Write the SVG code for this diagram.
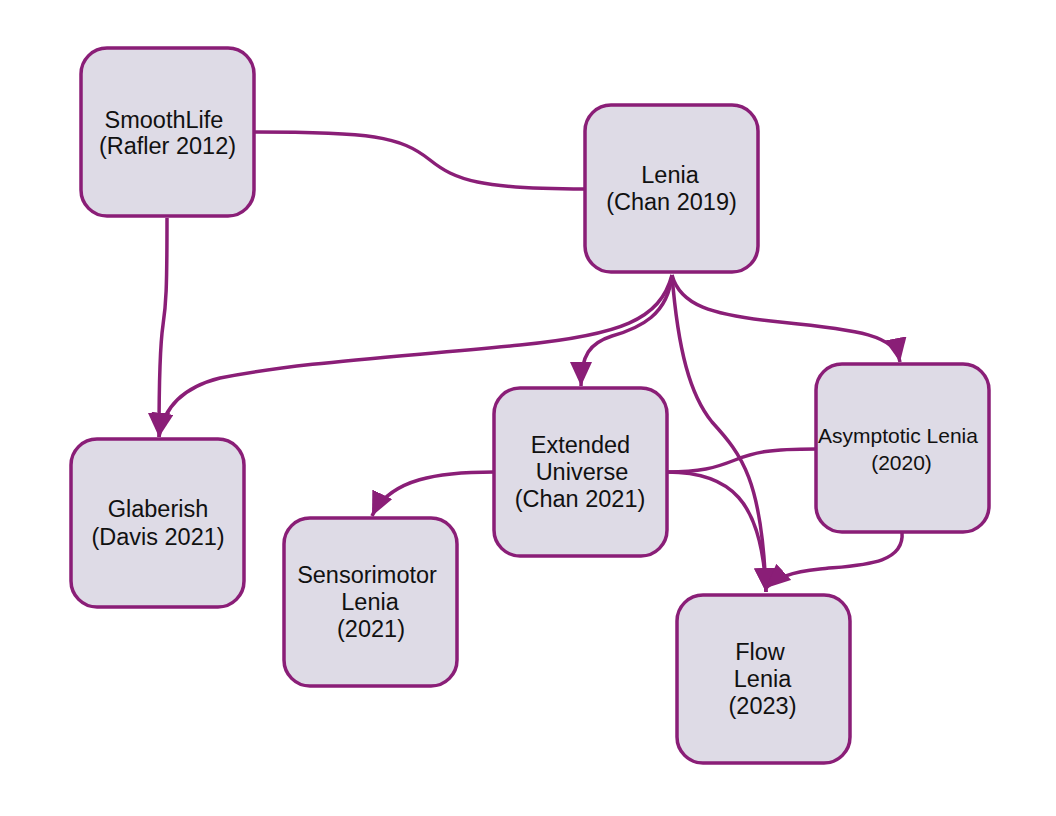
<svg xmlns="http://www.w3.org/2000/svg" width="1056" height="816" viewBox="0 0 1056 816">
<style>
.node rect{fill:#dedbe6;stroke:#8a1e77;stroke-width:3.5}
.node text{font-family:"Liberation Sans",Arial,sans-serif;font-size:23.5px;fill:#111;text-anchor:middle}
.node text.sm{font-size:21px}
.edge{fill:none;stroke:#8a1e77;stroke-width:3.5}
.arr{marker-end:url(#ah)}
</style>
<defs>
<marker id="ah" markerUnits="userSpaceOnUse" markerWidth="26" markerHeight="24" refX="24" refY="11" orient="auto">
<path d="M0,0 L24,11 L0,22 z" fill="#8a1e77"/>
</marker>
</defs>
<rect width="1056" height="816" fill="#fff"/>
<g id="connectors">
<path class="edge" d="M255,132 C370,132 400,136 430,160 C455,180 480,189 585,189"/>
<path class="edge arr" d="M167,218 C167,290 166,305 163,325 C160,345 159,370 159,437"/>
<path class="edge arr" d="M672,275 C660,320 620,335 520,345 C400,357 300,362 220,378 C180,388 163,410 159,437"/>
<path class="edge arr" d="M672,275 C668,315 640,328 612,336 C590,343 581,355 581,386"/>
<path class="edge arr" d="M672,275 C680,305 710,315 780,322 C860,330 895,335 900,362"/>
<path class="edge arr" d="M672,275 C678,350 690,395 712,422 C742,455 762,480 766,592"/>
<path class="edge arr" d="M667,472 C730,472 762,500 766,592"/>
<path class="edge arr" d="M494,472 C440,472 390,478 372,516"/>
<path class="edge" d="M816,449 C770,449 755,452 735,460 C715,468 700,472 667,472"/>
<path class="edge arr" d="M902,532 C905,565 860,565 820,569 C790,572 777,578 766,588"/>
</g>
<g id="smoothlife" class="node"><rect x="81" y="48" width="173" height="168" rx="26"/><text x="164" y="128">SmoothLife</text><text x="167.5" y="154">(Rafler 2012)</text></g>
<g id="lenia" class="node"><rect x="585" y="105" width="173" height="167" rx="26"/><text x="670" y="183">Lenia</text><text x="671.5" y="210">(Chan 2019)</text></g>
<g id="glaberish" class="node"><rect x="71" y="439" width="173" height="168" rx="26"/><text x="158" y="517">Glaberish</text><text x="158" y="545">(Davis 2021)</text></g>
<g id="extended" class="node"><rect x="494" y="388" width="173" height="168" rx="26"/><text x="580.5" y="453">Extended</text><text x="582" y="480">Universe</text><text x="580" y="507">(Chan 2021)</text></g>
<g id="sensorimotor" class="node"><rect x="284" y="518" width="173" height="168" rx="26"/><text x="367" y="583">Sensorimotor</text><text x="370" y="610">Lenia</text><text x="371" y="637">(2021)</text></g>
<g id="asymptotic" class="node"><rect x="816" y="364" width="173" height="168" rx="26"/><text class="sm" x="898" y="443">Asymptotic Lenia</text><text class="sm" x="901.5" y="470">(2020)</text></g>
<g id="flow" class="node"><rect x="677" y="595" width="173" height="168" rx="26"/><text x="760" y="660">Flow</text><text x="762.5" y="687">Lenia</text><text x="762.5" y="714">(2023)</text></g>
</svg>
